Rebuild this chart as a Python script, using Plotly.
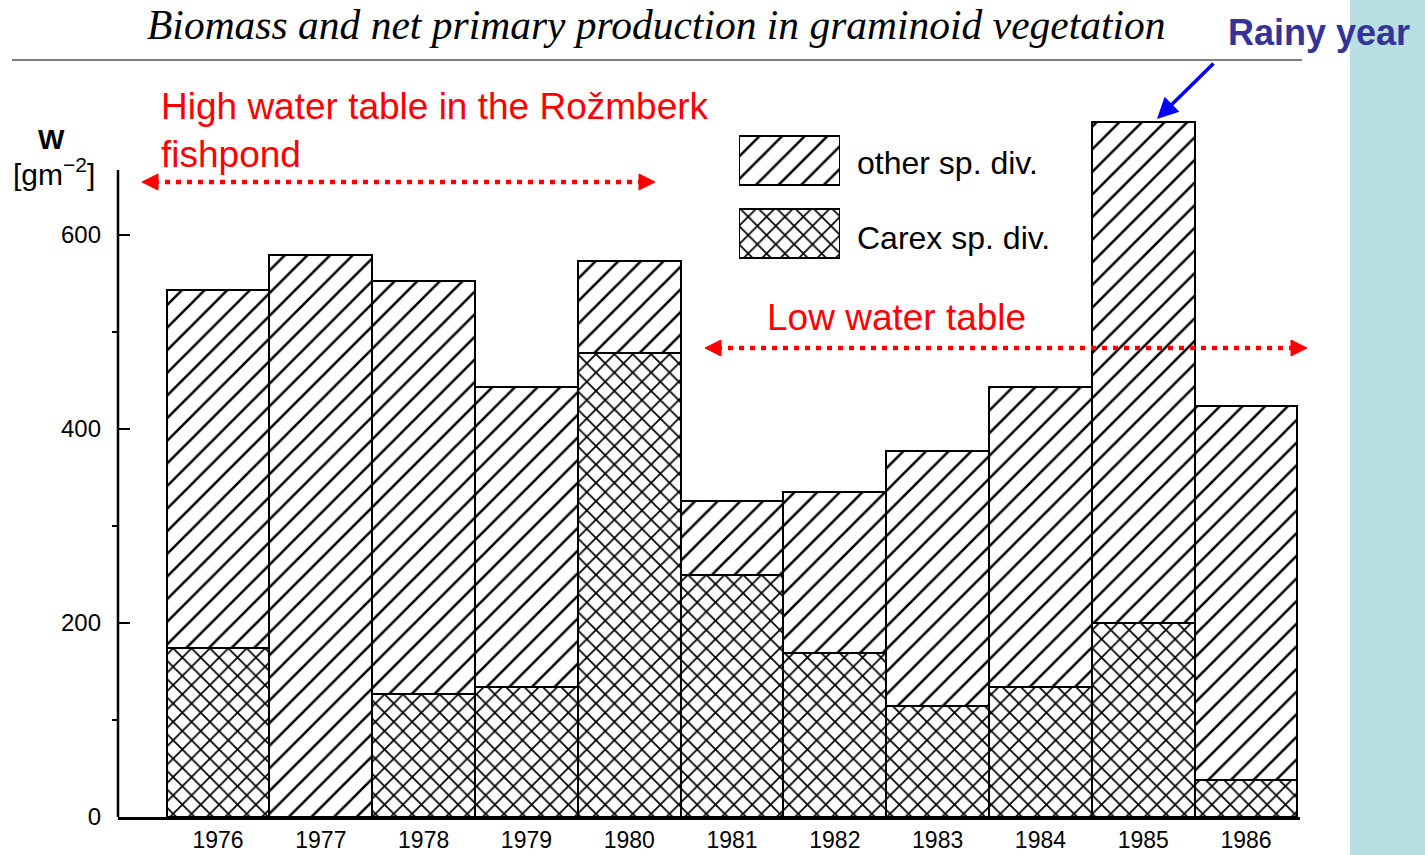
import plotly.graph_objects as go

years = [1976, 1977, 1978, 1979, 1980, 1981, 1982, 1983, 1984, 1985, 1986]
carex = [174, 0, 127, 134, 478, 249, 169, 114, 134, 200, 38]
other = [369, 579, 426, 309, 95, 77, 166, 263, 309, 516, 386]
ytick_vals = [0, 200, 400, 600]
legend_names = ["Carex sp. div.", "other sp. div."]

W, H = 1425, 855
L, R, T, B = 118, 1300, 60, 817   # plot area in pixels
YMAX = (B - T) / 0.97


def px(x):
    return (x - L) / (R - L)


def py(y):
    return (B - y) / (B - T)


diag = dict(shape="/", fgcolor="black", bgcolor="white", fgopacity=1, size=16, solidity=0.16)
cross = dict(shape="x", fgcolor="black", bgcolor="white", fgopacity=1, size=13, solidity=0.25)
edge = dict(color="black", width=2.5)

fig = go.Figure()
fig.add_trace(go.Bar(x=years, y=carex, name=legend_names[0],
                     marker=dict(color="white", line=edge, pattern=cross),
                     showlegend=False))
fig.add_trace(go.Bar(x=years, y=other, name=legend_names[1],
                     marker=dict(color="white", line=edge, pattern=diag),
                     showlegend=False))

# legend swatches on an inset axis
fig.add_trace(go.Bar(y=[0], x=[1], orientation="h", width=0.66,
                     xaxis="x2", yaxis="y2", showlegend=False, hoverinfo="skip",
                     marker=dict(color="white", line=edge, pattern=cross)))
fig.add_trace(go.Bar(y=[1], x=[1], orientation="h", width=0.66,
                     xaxis="x2", yaxis="y2", showlegend=False, hoverinfo="skip",
                     marker=dict(color="white", line=edge, pattern=diag)))

fig.update_layout(
    width=W, height=H,
    margin=dict(l=L, r=W - R, t=T, b=H - B, autoexpand=False),
    paper_bgcolor="white", plot_bgcolor="white",
    barmode="stack", bargap=0,
    font=dict(family="Liberation Sans, Arial", size=24, color="black"),
    xaxis=dict(range=[1975.027, 1986.525], tickvals=years, showgrid=False,
               zeroline=False, showline=True, linecolor="black", linewidth=2.5,
               ticks="", ticklabelstandoff=1, automargin=False,
               tickfont=dict(size=23)),
    yaxis=dict(range=[0, YMAX], tickvals=ytick_vals, showgrid=False, zeroline=False,
               showline=False, ticks="inside", ticklen=12, tickwidth=2,
               tickcolor="black", ticklabelstandoff=16, tickfont=dict(size=24),
               automargin=False,
               minor=dict(tickvals=[100, 300, 500], ticks="outside", ticklen=5,
                          tickwidth=2, tickcolor="black")),
    xaxis2=dict(domain=[px(739), px(840)], range=[0, 1], visible=False,
                anchor="y2", fixedrange=True, automargin=False),
    yaxis2=dict(domain=[py(260), py(134)], range=[-0.36, 1.36], visible=False,
                anchor="x2", fixedrange=True, automargin=False),
)

shapes = []
# y axis line
shapes.append(dict(type="line", xref="paper", yref="y", x0=0, x1=0, y0=0,
                   y1=(B - 170) / 0.97, line=dict(color="black", width=2.5)))
# title rule
shapes.append(dict(type="line", xref="paper", yref="paper", x0=px(12), x1=px(1302),
                   y0=py(60), y1=py(60), line=dict(color="#555555", width=1.5)))
# teal band
shapes.append(dict(type="rect", xref="paper", yref="paper", x0=px(1350), x1=px(1440),
                   y0=py(870), y1=py(-10), fillcolor="#b8dfe1", line=dict(width=0),
                   layer="below"))


def dotted_double_arrow(x0, x1, y, color="red"):
    out = [dict(type="line", xref="paper", yref="paper", x0=px(x0 + 12), x1=px(x1 - 12),
                y0=py(y), y1=py(y), line=dict(color=color, width=4.5, dash="5px,6px"))]
    for tip, d in ((x0, 1), (x1, -1)):
        b = tip + d * 16
        path = (f"M {px(tip)},{py(y)} L {px(b)},{py(y - 8)} "
                f"L {px(b)},{py(y + 8)} Z")
        out.append(dict(type="path", xref="paper", yref="paper", path=path,
                        fillcolor=color, line=dict(color=color, width=1)))
    return out


shapes += dotted_double_arrow(142, 655, 182)
shapes += dotted_double_arrow(705, 1307, 348)
fig.update_layout(shapes=shapes)

ann = []
ann.append(dict(text="<i>Biomass and net primary production in graminoid vegetation</i>",
                xref="paper", yref="paper", x=px(656), y=py(25), showarrow=False,
                xanchor="center", yanchor="middle",
                font=dict(family="Liberation Serif, Times New Roman", size=41.5, color="black")))
ann.append(dict(text="<b>Rainy year</b>", xref="paper", yref="paper", x=px(1319), y=py(32),
                showarrow=False, xanchor="center", yanchor="middle",
                font=dict(size=36, color="#333399")))
ann.append(dict(text="", xref="paper", yref="paper", x=px(1157), y=py(119),
                ax=58, ay=-57,
                showarrow=True, arrowhead=2, arrowsize=1.2, arrowwidth=3.5,
                arrowcolor="#0000ff"))
ann.append(dict(text="High water table in the Rožmberk<br>fishpond", xref="paper",
                yref="paper", x=px(159), y=py(131), showarrow=False, xanchor="left",
                yanchor="middle", align="left",
                font=dict(size=37, color="red")))
ann.append(dict(text="Low water table", xref="paper", yref="paper", x=px(765), y=py(317),
                showarrow=False, xanchor="left", yanchor="middle",
                font=dict(size=37, color="red")))
ann.append(dict(text="<b>W</b>", xref="paper", yref="paper", x=px(51), y=py(139),
                showarrow=False, xanchor="center", yanchor="middle",
                font=dict(size=28, color="black")))
ann.append(dict(text="[gm<sup>−2</sup>]", xref="paper", yref="paper", x=px(54), y=py(172),
                showarrow=False, xanchor="center", yanchor="middle",
                font=dict(size=30, color="black")))
ann.append(dict(text=legend_names[1], xref="paper", yref="paper", x=px(855), y=py(163),
                showarrow=False, xanchor="left", yanchor="middle",
                font=dict(size=32, color="black")))
ann.append(dict(text=legend_names[0], xref="paper", yref="paper", x=px(855), y=py(238),
                showarrow=False, xanchor="left", yanchor="middle",
                font=dict(size=32, color="black")))
fig.update_layout(annotations=ann)

fig.write_html("out.html", config={"displayModeBar": False},
               post_script="document.body.style.margin='0';"
                           "document.body.style.overflow='hidden';")
